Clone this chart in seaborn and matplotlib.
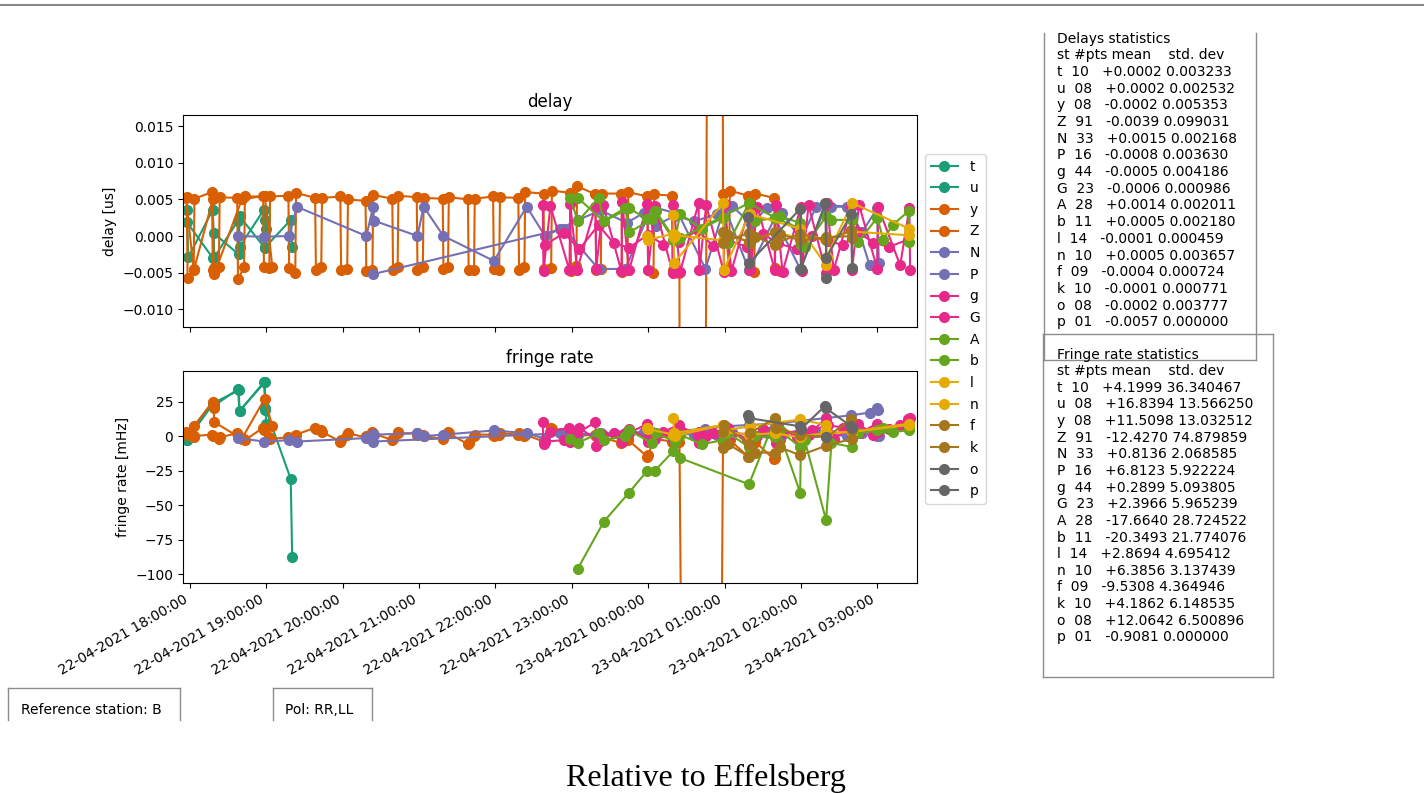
import numpy as np
import pandas as pd
import matplotlib
matplotlib.use("Agg")
import matplotlib.pyplot as plt
import matplotlib.dates as mdates
from matplotlib.lines import Line2D
import seaborn as sns

# ---------------- data (hours since 22-04-2021 00:00) ----------------
STATIONS = ['t', 'u', 'y', 'Z', 'N', 'P', 'g', 'G', 'A', 'b', 'l', 'n', 'f', 'k', 'o', 'p']

HOURS_t = [17.96, 17.98, 18.30, 18.32, 18.63, 18.65, 18.97, 18.99, 19.32, 19.34]
DELAY_t = [0.0036, -0.0029, 0.0036, -0.0029, 0.0021, -0.0015, 0.0036, -0.0015, 0.0022, -0.0015]
RATE_t = [-3, -1, 24, 22, 34, 18, 39, 20, -31, -88]

HOURS_u = [17.96, 18.30, 18.31, 18.64, 18.65, 18.98, 18.99, 19.00]
DELAY_u = [0.0019, -0.0030, 0.0004, -0.0025, 0.0027, -0.0016, 0.0022, 0.0010]
RATE_u = [-3, 23, 24, 33, 18, 39, 19, 9]

HOURS_y = [17.95, 18.05, 18.30, 18.31, 18.32, 18.68, 18.98, 19.08]
DELAY_y = [0.0052, -0.0047, 0.0050, -0.0044, -0.0052, 0.0050, 0.0055, -0.0043]
RATE_y = [3, 7, 25, 20, 10, -2, 27, 7]

HOURS_Z = [17.96, 17.97, 18.05, 18.06, 18.29, 18.30, 18.38, 18.39, 18.62, 18.63, 18.71, 18.72,
           18.96, 18.97, 19.04, 19.05, 19.29, 19.30, 19.38, 19.39, 19.64, 19.65, 19.72, 19.73,
           19.97, 19.98, 20.06, 20.07, 20.30, 20.31, 20.39, 20.40, 20.65, 20.66, 20.72, 20.73,
           20.97, 20.98, 21.05, 21.06, 21.31, 21.32, 21.38, 21.39, 21.64, 21.65, 21.72, 21.73,
           21.97, 21.98, 22.05, 22.06, 22.30, 22.31, 22.38, 22.39, 22.63, 22.64, 22.73, 22.74,
           22.98, 22.99, 23.06, 23.07, 23.31, 23.32, 23.38, 23.39, 23.65, 23.66, 23.73, 23.74,
           23.99, 24.00, 24.07, 24.08, 24.31, 24.32, 24.41, 24.485, 24.92, 24.98, 25.06, 25.07,
           25.31, 25.32, 25.39, 25.40, 25.65, 25.66, 25.72]
DELAY_Z = [0.0053, -0.0058, -0.0045, 0.0051, 0.0060, -0.0046, -0.0043, 0.0053, 0.0052, -0.0059, -0.0043, 0.0054,
           0.0054, -0.0043, -0.0044, 0.0054, 0.0055, -0.0044, -0.0050, 0.0059, 0.0052, -0.0046, -0.0043, 0.0052,
           0.0054, -0.0047, -0.0045, 0.0050, 0.0048, -0.0048, -0.0047, 0.0056, 0.0051, -0.0046, -0.0043, 0.0055,
           0.0053, -0.0046, -0.0043, 0.0052, 0.0051, -0.0045, -0.0043, 0.0053, 0.0050, -0.0046, -0.0046, 0.0051,
           0.0054, -0.0045, -0.0046, 0.0053, 0.0052, -0.0046, -0.0043, 0.0060, 0.0058, -0.0045, -0.0044, 0.0062,
           0.0059, -0.0048, -0.0041, 0.0068, 0.0057, -0.0046, -0.0045, 0.0058, 0.0058, -0.0049, -0.0047, 0.0060,
           0.0054, -0.0047, -0.0050, 0.0057, 0.0055, -0.0047, -0.0050, -0.82, 0.47, 0.0058, -0.0045, 0.0062,
           0.0055, -0.0047, -0.0049, 0.0058, 0.0052, -0.0044, -0.0048]
RATE_Z = [2, 1, -1, 0, 1, 0, -2, -1, 2, 1, -2, -3,
          6, 4, -1, -2, -1, -2, 0, 1, 6, 5, 4, 3,
          -4, -3, 1, 2, -1, 0, 3, 2, -3, -2, 3, 2,
          2, 1, 1, 0, -2, -1, 3, 2, -6, -5, 0, 1,
          1, 0, 1, 2, 1, 2, 0, 1, -4, -3, 6, 5,
          -2, -3, -1, 0, 1, 0, -2, -1, -5, -4, -2, -3,
          -15, -14, -3, -2, -4, -3, -4, -500, -500, -4, -5, -3,
          -15, -14, -5, -4, -17, -16, -3]

HOURS_N = [18.63, 18.97, 19.30, 19.40, 20.31, 20.40, 20.41, 20.98, 21.06, 21.32, 21.98, 22.41, 22.65,
           22.85, 23.08, 23.38, 23.72, 23.95, 24.10, 24.35, 24.60, 24.90, 25.10, 25.35, 25.55, 25.75,
           26.00, 26.20, 26.40, 26.60, 26.80, 27.00, 27.02]
DELAY_N = [0.0000, -0.0001, 0.0000, 0.0040, 0.0000, 0.0040, 0.0021, 0.0000, 0.0040, 0.0000, -0.0034,
           0.0040, 0.0000, 0.0010, 0.0022, 0.0035, 0.0018, 0.0032, 0.0014, 0.0028, 0.0020, 0.0030,
           0.0041, 0.0016, 0.0038, 0.0032, -0.0005, 0.0040, 0.0040, 0.0040, 0.0005, 0.0038, -0.0037]
RATE_N = [-1.5, -4, -3, -4, -1.5, 1.5, 1, 2, 0, 1, 4, 2, -2, 2, 1, 2, 2, 3, 0, 2, 1, 1, 3, 0, 2, 1,
          4, 3, 1, 0, 2, 0, 0]

HOURS_P = [20.40, 22.90, 23.35, 23.70, 24.05, 24.40, 24.75, 25.00, 25.32, 25.66, 25.99, 26.33, 26.66,
           26.90, 27.00, 27.01]
DELAY_P = [-0.0052, 0.0010, -0.0045, -0.0045, 0.0040, 0.0030, -0.0045, 0.0040, -0.0047, 0.0025,
           -0.0045, 0.0042, 0.0040, -0.0040, -0.0038, 0.0040]
RATE_P = [-4, 2, 1, 2, 3, 4, 5, 7, 8, 9, 11, 13, 15, 17, 20, 19]

HOURS_g = [22.62, 22.63, 22.72, 22.97, 22.98, 23.07, 23.31, 23.32, 23.41, 23.65, 23.66, 23.75,
           23.99, 24.00, 24.09, 24.32, 24.33, 24.42, 24.66, 24.67, 24.76, 24.99, 25.00, 25.09,
           25.33, 25.34, 25.43, 25.66, 25.67, 25.76, 26.00, 26.01, 26.10, 26.33, 26.34, 26.43,
           26.66, 26.67, 26.76, 27.00, 27.01, 27.30, 27.42, 27.43]
DELAY_g = [0.0042, -0.0048, 0.0041, -0.0047, 0.0044, -0.0046, 0.0040, -0.0045, 0.0043,
           -0.0048, 0.0046, -0.0047, 0.0044, -0.0046, 0.0041, -0.0050, 0.0043, -0.0049,
           0.0045, -0.0047, 0.0042, -0.0049, 0.0044, -0.0048, 0.0041, -0.0046, 0.0040,
           -0.0047, 0.0043, -0.0049, 0.0040, -0.0048, 0.0042, -0.0050, 0.0045, -0.0047,
           0.0041, -0.0046, 0.0043, -0.0045, 0.0040, -0.0040, 0.0038, -0.0047]
RATE_g = [10, -6, 3, 6, -4, 2, 10, -7, 1, 0, -4, 2, 9, -4, -2, 1, -3, 2, 3, -5, 0, -2, -4, 1,
          2, -3, 0, -1, -5, 2, 4, -3, 1, 13, 2, -2, 6, -1, 2, 9, 3, 8, 12, 13]

HOURS_G = [22.65, 22.90, 23.10, 23.35, 23.55, 23.75, 24.00, 24.20, 24.40, 24.65, 24.85, 25.05,
           25.30, 25.50, 25.70, 25.95, 26.15, 26.35, 26.55, 26.75, 26.95, 27.15, 27.40]
DELAY_G = [-0.0012, 0.0004, -0.0018, 0.0015, -0.0010, -0.0016, 0.0002, -0.0012, -0.0008, 0.0008,
           -0.0014, -0.0006, -0.0015, 0.0003, -0.0010, -0.0018, 0.0000, -0.0007, -0.0012, 0.0005,
           -0.0009, -0.0015, -0.0005]
RATE_G = [-4, -3, 6, -4, 2, 5, -2, 3, 8, 0, 2, 6, -3, 5, 7, -1, 4, 8, 6, 9, 1, 5, 12]

HOURS_A = [22.98, 23.08, 23.35, 23.42, 23.70, 23.75, 24.05, 24.10, 24.35, 24.42, 24.70, 24.98,
           25.05, 25.32, 25.40, 25.66, 25.72, 25.99, 26.05, 26.33, 26.40, 26.67, 26.75, 27.00,
           27.08, 27.20, 27.41, 27.42]
DELAY_A = [0.0052, 0.0020, 0.0052, 0.0021, 0.0038, 0.0005, 0.0023, 0.0034, -0.0005, 0.0030,
           0.0010, 0.0025, -0.0010, 0.0045, 0.0020, 0.0025, 0.0027, 0.0018, -0.0015, 0.0027,
           0.0022, 0.0022, -0.0008, 0.0025, -0.0005, 0.0015, 0.0034, -0.0008]
RATE_A = [-2, -5, 2, -3, 0, 4, -5, 2, -4, 1, -6, -3, 2, -8, 0, -1, 4, -8, -3, -61, -5, -8, 2,
          4, 6, 3, 4, 6]

HOURS_b = [23.08, 23.42, 23.75, 23.99, 24.09, 24.33, 24.42, 25.32, 25.66, 25.99, 26.00]
DELAY_b = [0.0052, 0.0020, 0.0038, 0.0023, 0.0034, -0.0005, -0.0003, 0.0045, 0.0025, 0.0010, -0.0012]
RATE_b = [-96, -62, -41, -25, -25, -11, -16, -35, 12, -41, -8]

HOURS_l = [23.99, 24.00, 24.33, 24.34, 24.35, 24.98, 24.99, 25.32, 25.66, 25.99, 26.00, 26.32,
           26.67, 27.42]
DELAY_l = [0.0000, -0.0005, 0.0003, -0.0002, 0.0001, -0.0006, 0.0004, -0.0008, 0.0005, -0.0003,
           0.0002, -0.0004, 0.0006, 0.0001]
RATE_l = [6, 5, 1, 2, 0, 8, 3, 1, 2, -1, 0, 2, 3, 9]

HOURS_n = [24.33, 24.34, 24.98, 24.99, 25.33, 25.99, 26.33, 26.34, 26.67, 27.42]
DELAY_n = [0.0029, -0.0037, 0.0045, -0.0046, 0.0030, 0.0010, -0.0040, -0.0028, 0.0045, 0.0010]
RATE_n = [13, 2, 8, 4, 7, 12, 8, 2, 3, 8]

HOURS_f = [24.98, 25.05, 25.32, 25.40, 25.66, 25.72, 25.99, 26.33, 26.67]
DELAY_f = [-0.0010, 0.0002, -0.0008, -0.0001, -0.0012, 0.0003, -0.0006, -0.0002, 0.0000]
RATE_f = [-9, -6, -15, -12, -12, -8, -14, -7, -2]

HOURS_k = [24.98, 24.99, 25.32, 25.33, 25.66, 25.67, 25.99, 26.33, 26.66, 26.67]
DELAY_k = [0.0005, -0.0008, 0.0004, -0.0009, 0.0006, -0.0010, 0.0003, -0.0006, 0.0008, -0.0003]
RATE_k = [3, 8, -6, 2, 13, 6, 1, -1, 12, 4]

HOURS_o = [25.31, 25.32, 25.99, 26.00, 26.32, 26.33, 26.66, 26.67]
DELAY_o = [0.0026, -0.0037, 0.0037, -0.0045, 0.0045, -0.0030, 0.0030, -0.0044]
RATE_o = [15, 13, 7, 5, 22, 20, 7, 6]

HOURS_p = [26.33]
DELAY_p = [-0.0057]
RATE_p = [-0.9]

DELAY_STATS = [
    ("t", "10", "+0.0002", "0.003233"), ("u", "08", "+0.0002", "0.002532"),
    ("y", "08", "-0.0002", "0.005353"), ("Z", "91", "-0.0039", "0.099031"),
    ("N", "33", "+0.0015", "0.002168"), ("P", "16", "-0.0008", "0.003630"),
    ("g", "44", "-0.0005", "0.004186"), ("G", "23", "-0.0006", "0.000986"),
    ("A", "28", "+0.0014", "0.002011"), ("b", "11", "+0.0005", "0.002180"),
    ("l", "14", "-0.0001", "0.000459"), ("n", "10", "+0.0005", "0.003657"),
    ("f", "09", "-0.0004", "0.000724"), ("k", "10", "-0.0001", "0.000771"),
    ("o", "08", "-0.0002", "0.003777"), ("p", "01", "-0.0057", "0.000000"),
]
RATE_STATS = [
    ("t", "10", "+4.1999", "36.340467"), ("u", "08", "+16.8394", "13.566250"),
    ("y", "08", "+11.5098", "13.032512"), ("Z", "91", "-12.4270", "74.879859"),
    ("N", "33", "+0.8136", "2.068585"), ("P", "16", "+6.8123", "5.922224"),
    ("g", "44", "+0.2899", "5.093805"), ("G", "23", "+2.3966", "5.965239"),
    ("A", "28", "-17.6640", "28.724522"), ("b", "11", "-20.3493", "21.774076"),
    ("l", "14", "+2.8694", "4.695412"), ("n", "10", "+6.3856", "3.137439"),
    ("f", "09", "-9.5308", "4.364946"), ("k", "10", "+4.1862", "6.148535"),
    ("o", "08", "+12.0642", "6.500896"), ("p", "01", "-0.9081", "0.000000"),
]

HOURS = {'t': HOURS_t, 'u': HOURS_u, 'y': HOURS_y, 'Z': HOURS_Z, 'N': HOURS_N, 'P': HOURS_P,
         'g': HOURS_g, 'G': HOURS_G, 'A': HOURS_A, 'b': HOURS_b, 'l': HOURS_l, 'n': HOURS_n,
         'f': HOURS_f, 'k': HOURS_k, 'o': HOURS_o, 'p': HOURS_p}
DELAYS = {'t': DELAY_t, 'u': DELAY_u, 'y': DELAY_y, 'Z': DELAY_Z, 'N': DELAY_N, 'P': DELAY_P,
          'g': DELAY_g, 'G': DELAY_G, 'A': DELAY_A, 'b': DELAY_b, 'l': DELAY_l, 'n': DELAY_n,
          'f': DELAY_f, 'k': DELAY_k, 'o': DELAY_o, 'p': DELAY_p}
RATES = {'t': RATE_t, 'u': RATE_u, 'y': RATE_y, 'Z': RATE_Z, 'N': RATE_N, 'P': RATE_P,
         'g': RATE_g, 'G': RATE_G, 'A': RATE_A, 'b': RATE_b, 'l': RATE_l, 'n': RATE_n,
         'f': RATE_f, 'k': RATE_k, 'o': RATE_o, 'p': RATE_p}

# ---------------- figure ----------------
W, H = 1424, 793
fig = plt.figure(figsize=(W / 100, H / 100), dpi=100)
plt.rcParams['font.family'] = ['DejaVu Sans']


def fx(x):
    return x / W


def fy(y):
    return 1 - y / H


ax1 = fig.add_axes([fx(183), fy(327), fx(917) - fx(183), fy(115) - fy(327)])
ax2 = fig.add_axes([fx(183), fy(583), fx(917) - fx(183), fy(371) - fy(583)], sharex=ax1)

colors = plt.cm.Dark2(np.linspace(0, 1, len(STATIONS)))
base = pd.Timestamp('2021-04-22')
MS = 7

handles = []
for st, c in zip(STATIONS, colors):
    times = base + pd.to_timedelta(np.array(HOURS[st]), unit='h')
    df = pd.DataFrame({'time': times, 'delay': DELAYS[st], 'rate': RATES[st]})
    kw = dict(color=c, marker='o', markersize=MS, markeredgecolor=c, markeredgewidth=1,
              linewidth=1.5, sort=False, estimator=None, legend=False)
    sns.lineplot(data=df, x='time', y='delay', ax=ax1, **kw)
    sns.lineplot(data=df, x='time', y='rate', ax=ax2, **kw)
    handles.append(Line2D([], [], color=c, marker='o', markersize=MS, linewidth=1.5, label=st))

x0 = base + pd.to_timedelta(17.91, unit='h')
x1 = base + pd.to_timedelta(27.52, unit='h')
ax1.set_xlim(x0, x1)
ax1.set_ylim(-0.01243, 0.01653)
ax1.set_yticks([-0.010, -0.005, 0.000, 0.005, 0.010, 0.015])
ax2.set_ylim(-106.5, 47.1)
ax2.set_yticks([-100, -75, -50, -25, 0, 25])

for ax in (ax1, ax2):
    ax.xaxis.set_major_locator(mdates.HourLocator(interval=1))
    ax.xaxis.set_major_formatter(mdates.DateFormatter('%d-%m-%Y %H:%M:%S'))
    ax.set_xlabel('')
    ax.tick_params(labelsize=10)
plt.setp(ax1.get_xticklabels(), visible=False)
plt.setp(ax2.get_xticklabels(), rotation=30, ha='right')

ax1.set_title('delay', fontsize=12)
ax2.set_title('fringe rate', fontsize=12)
ax1.set_ylabel('delay [us]', fontsize=10)
ax2.set_ylabel('fringe rate [mHz]', fontsize=10)

fig.legend(handles=handles, loc='upper left', bbox_to_anchor=(fx(925), fy(154)),
           bbox_transform=fig.transFigure, borderaxespad=0, fontsize=10, labelspacing=0.55)

# ---------------- statistics text boxes ----------------
box_col = '#8c8c8c'


def hline(x0_, x1_, y_):
    fig.add_artist(Line2D([fx(x0_), fx(x1_)], [fy(y_), fy(y_)], color=box_col, lw=1,
                          transform=fig.transFigure))


def vline(x_, y0_, y1_):
    fig.add_artist(Line2D([fx(x_), fx(x_)], [fy(y0_), fy(y1_)], color=box_col, lw=1,
                          transform=fig.transFigure))


dtext = "Delays statistics\nst #pts mean    std. dev\n" + "\n".join(
    f"{s}  {n}   {m} {d}" for s, n, m, d in DELAY_STATS)
ftext = "Fringe rate statistics\nst #pts mean    std. dev\n" + "\n".join(
    f"{s}  {n}   {m} {d}" for s, n, m, d in RATE_STATS)

# delays box (top clipped)
vline(1044, 33, 360)
vline(1256, 33, 360)
hline(1044, 1256, 360)
fig.text(fx(1057), fy(31.5), dtext, fontsize=10, va='top', ha='left', linespacing=1.245)

# fringe box
hline(1043, 1273, 334)
hline(1043, 1273, 677)
vline(1043, 334, 677)
vline(1273, 334, 677)
fig.text(fx(1057), fy(347.5), ftext, fontsize=10, va='top', ha='left', linespacing=1.24)

# bottom boxes (clipped at the bottom)
hline(8, 180, 688)
vline(8, 688, 720)
vline(180, 688, 720)
fig.text(fx(21), fy(710), "Reference station: B", fontsize=10, va='center', ha='left')
hline(273, 372, 688)
vline(273, 688, 720)
vline(372, 688, 720)
fig.text(fx(285), fy(710), "Pol: RR,LL", fontsize=10, va='center', ha='left')

# page border line and caption
fig.add_artist(Line2D([0, 1], [fy(5), fy(5)], color='#888888', lw=1.5, transform=fig.transFigure))
fig.text(fx(706), fy(786), "Relative to Effelsberg", fontsize=23, ha='center', va='baseline',
         family=['Liberation Serif', 'DejaVu Serif'])

fig.savefig('out.png', dpi=100)
